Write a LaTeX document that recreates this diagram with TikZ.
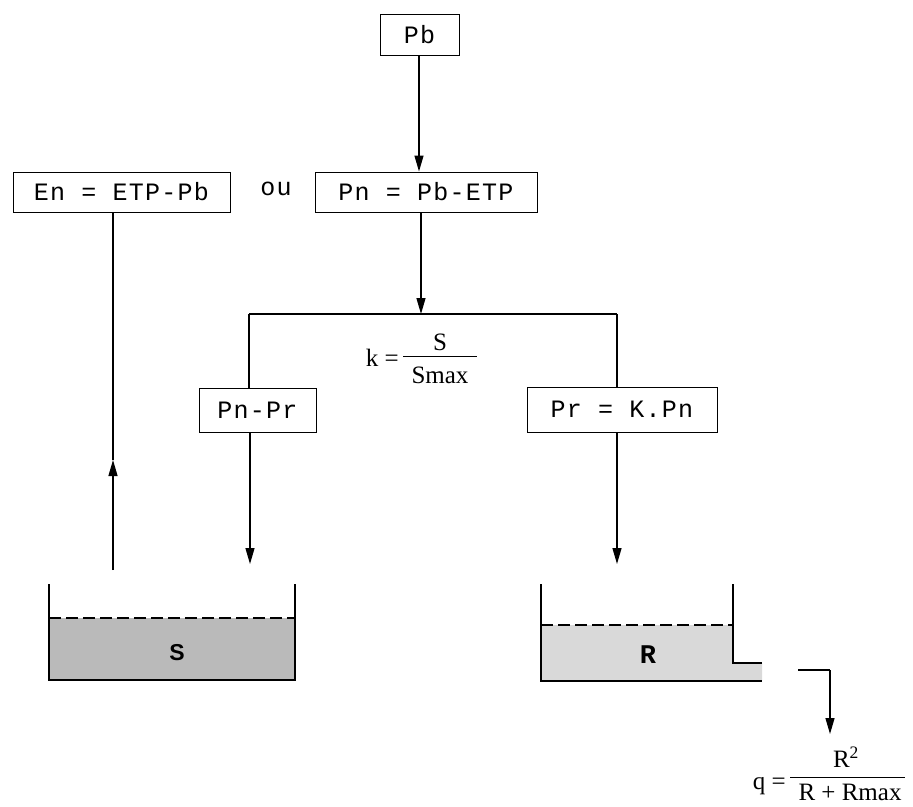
\documentclass[tikz,border=0pt]{standalone}
\usepackage{fontspec}
\setmainfont{Liberation Serif}
\newfontfamily\tyfont[LetterSpace=5]{Liberation Mono}
\newfontfamily\tybold{Liberation Mono Bold}
\newfontfamily\sfbold{Liberation Sans Bold}
\usetikzlibrary{arrows.meta}
\tikzset{
  lbox/.style={draw, line width=1pt, inner sep=0pt, font={\tyfont\fontsize{25}{27}\selectfont}},
  conn/.style={line width=1.3pt},
  arr/.style={line width=1.3pt, -{Triangle[length=16pt,width=9pt]}},
  serif/.style={inner sep=0pt, font={\fontsize{25}{27}\selectfont}},
  tank/.style={line width=1.4pt},
}
\begin{document}
\begin{tikzpicture}[x=1pt,y=-1pt]
\useasboundingbox (0,0) rectangle (913,806);
% boxes
\node[lbox, minimum width=79pt, minimum height=41pt] (pb) at (419.5,34.5) {Pb};
\node[lbox, minimum width=217pt, minimum height=40pt] (en) at (121.5,192) {En = ETP-Pb};
\node[lbox, minimum width=222pt, minimum height=40pt] (pn) at (426,192) {Pn = Pb-ETP};
\node[inner sep=0pt, font={\tyfont\fontsize{25}{27}\selectfont}] (ou) at (276,189) {ou};
\node[lbox, minimum width=117pt, minimum height=44pt] (pnpr) at (257.5,410) {Pn-Pr};
\node[lbox, minimum width=190pt, minimum height=45pt] (pr) at (622,409.5) {Pr = K.Pn};
% coordinates
\coordinate (pnjoin) at (421,314);
\coordinate (hl) at (249,314);
\coordinate (hr) at (617,314);
\coordinate (stip) at (250,564);
\coordinate (rtip) at (617,564);
\coordinate (upbot) at (113,570);
\coordinate (upmid) at (113,460);
% connectors
\draw[arr] (pb.south -| 419,0) -- (pn.north -| 419,0);
\draw[arr] (pn.south -| pnjoin) -- (pnjoin);
\draw[conn] (hl) -- (hr);
\draw[conn] (hl) -- (pnpr.north -| hl);
\draw[conn] (hr) -- (pr.north -| hr);
\draw[arr] (pnpr.south -| stip) -- (stip);
\draw[arr] (pr.south -| rtip) -- (rtip);
\draw[arr] (upbot) -- (upmid);
\draw[conn] (upmid) -- (en.south -| upmid);
% k fraction
\node[serif, anchor=east] (kk) at (399,358) {k =};
\node[serif] (kS) at (440,342) {S};
\node[serif] (kSm) at (440,375) {Smax};
\draw[line width=1pt] (403,356) -- (477,356);
% S tank
\fill[black!27] (49,618) rectangle (295,680);
\draw[tank, dashed, dash pattern=on 12pt off 5pt] (49,618) -- (295,618);
\draw[tank] (49,584) -- (49,680) -- (295,680) -- (295,584);
\node[inner sep=0pt, font={\sfbold\fontsize{23}{25}\selectfont}] (sl) at (177,653) {S};
% R tank
\fill[black!15] (541,625) -- (733,625) -- (733,663) -- (762,663) -- (762,681) -- (541,681) -- cycle;
\draw[tank, dashed, dash pattern=on 12pt off 5pt] (541,625) -- (733,625);
\draw[tank] (541,584) -- (541,681) -- (762,681);
\draw[tank] (733,584) -- (733,663) -- (762,663);
\node[inner sep=0pt, font={\tybold\fontsize{27}{29}\selectfont}] (rl) at (648,655) {R};
% outlet
\coordinate (o1) at (798,670);
\coordinate (o2) at (830,670);
\coordinate (o3) at (830,734);
\draw[conn] (o1) -- (o2);
\draw[arr] (o2) -- (o3);
% q fraction
\node[serif, anchor=east] (qq) at (786,786) {q =};
\node[serif] (qR) at (846,757) {R\textsuperscript{2}};
\node[serif] (qD) at (850,792) {R + Rmax};
\draw[line width=1pt] (790,777) -- (905,777);
\end{tikzpicture}
\end{document}
